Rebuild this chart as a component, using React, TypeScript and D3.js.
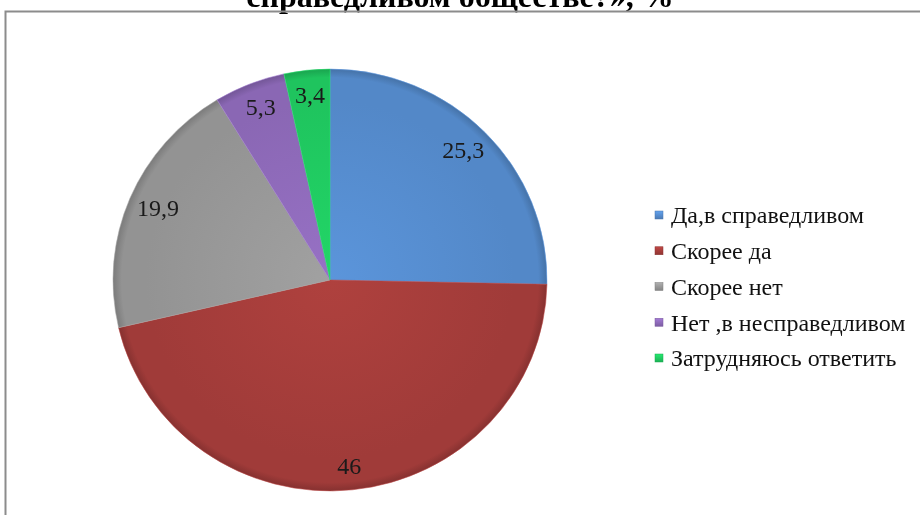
import React from "react";
import * as d3 from "d3";

const categories = [
  "Да,в справедливом",
  "Скорее да",
  "Скорее нет",
  "Нет ,в несправедливом",
  "Затрудняюсь ответить",
];
const values = [25.3, 46, 19.9, 5.3, 3.4];
const labels = ["25,3", "46", "19,9", "5,3", "3,4"];
const colors = ["#5388c8", "#a03b39", "#939393", "#8a67b4", "#1fc45e"];

const width = 920,
  height = 515,
  cx = 330,
  cy = 280,
  R = 217,
  squash = 0.972;

const serif = { fontFamily: "'Liberation Serif', 'Times New Roman', serif" };

const App = () => {
  const pie = d3
    .pie<number>()
    .value((d) => d)
    .sort(null);
  const arcs = pie(values);

  const arc = d3.arc<d3.PieArcDatum<number>>().innerRadius(0).outerRadius(R);
  const labelArc = d3
    .arc<d3.PieArcDatum<number>>()
    .innerRadius(R * 0.86)
    .outerRadius(R * 0.86);

  const legendY = d3
    .scalePoint<string>()
    .domain(categories)
    .range([215, 358]);

  return (
    <div style={{ position: "fixed", left: 0, top: 0 }}>
      <svg width={width} height={height}>
        <defs>
          {colors.map((c, i) => {
            const base = d3.color(c)!;
            return (
              <radialGradient
                key={i}
                id={`g${i}`}
                gradientUnits="userSpaceOnUse"
                cx={0}
                cy={0}
                r={R}
              >
                <stop offset="0" stopColor={base.brighter(0.25).toString()} />
                <stop offset="0.85" stopColor={c} />
                <stop offset="0.96" stopColor={c} />
                <stop offset="1" stopColor={base.darker(0.5).toString()} />
              </radialGradient>
            );
          })}
          {colors.map((c, i) => (
            <linearGradient key={i} id={`lg${i}`} x1="0" y1="0" x2="0" y2="1">
              <stop offset="0" stopColor={d3.color(c)!.brighter(0.5).toString()} />
              <stop offset="1" stopColor={d3.color(c)!.darker(0.3).toString()} />
            </linearGradient>
          ))}
        </defs>

        {/* title is cropped at the top in the original */}
        <text
          x={460}
          y={7}
          textAnchor="middle"
          fontSize={32}
          fontWeight="bold"
          fill="#000"
          style={serif}
        >
          справедливом обществе?», %
        </text>

        <path
          d={`M5.5,${height} V11.5 H${width}`}
          fill="none"
          stroke="#8c8c8c"
          strokeWidth={2}
        />

        <g transform={`translate(${cx},${cy}) scale(1,${squash})`}>
          {arcs.map((d, i) => (
            <path
              key={i}
              d={arc(d) || ""}
              fill={`url(#g${i})`}
              stroke={d3.color(colors[i])!.brighter(0.4).toString()}
              strokeWidth={0.8}
              strokeOpacity={0.7}
            />
          ))}
          {arcs.map((d, i) => {
            const [x, y] = labelArc.centroid(d);
            return (
              <text
                key={i}
                x={x}
                y={y}
                transform={`scale(1,${1 / squash})`}
                dy="0.35em"
                textAnchor="middle"
                fontSize={24}
                fill="#1a1a1a"
                style={serif}
              >
                {labels[i]}
              </text>
            );
          })}
        </g>

        <g>
          {categories.map((c, i) => (
            <g key={c} transform={`translate(655,${legendY(c)})`}>
              <rect
                x={0}
                y={-4}
                width={8}
                height={8}
                fill={`url(#lg${i})`}
                stroke={d3.color(colors[i])!.darker(0.4).toString()}
                strokeWidth={0.5}
              />
              <text x={16} dy="0.35em" fontSize={24} fill="#111" style={serif}>
                {c}
              </text>
            </g>
          ))}
        </g>
      </svg>
    </div>
  );
};

export default App;
